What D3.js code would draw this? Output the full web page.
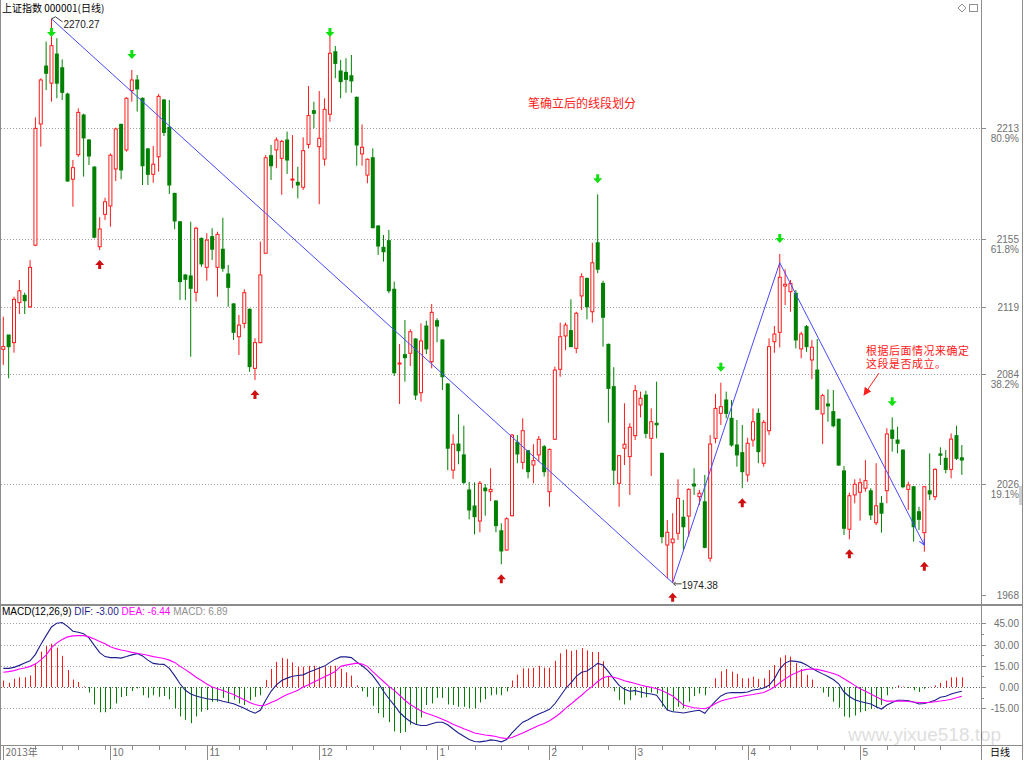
<!DOCTYPE html>
<html>
<head>
<meta charset="utf-8">
<script src="https://cdn.jsdelivr.net/npm/d3@7"></script>
<style>
body { margin: 0; background: #fff; }
svg { display: block; }
text { font-family: "Liberation Sans", Arial, sans-serif; }
.cjk { font-family: "Noto Sans CJK SC", sans-serif; }
.note { font-family: "Liberation Sans", "Noto Sans CJK SC", sans-serif; }
</style>
</head>
<body>
<svg id="chart" width="1024" height="760"></svg>
<script>
// trading days shown (Aug 30 2013 .. May 30 2014)
var months = ["2013-08","2013-09","2013-10","2013-11","2013-12","2014-01","2014-02","2014-03","2014-04","2014-05"];
var monthDays = [
  [30],
  [2,3,4,5,6,9,10,11,12,13,16,17,18,23,24,25,26,27,30],
  [8,9,10,11,14,15,16,17,18,21,22,23,24,25,28,29,30,31],
  [1,4,5,6,7,8,11,12,13,14,15,18,19,20,21,22,25,26,27,28,29],
  [2,3,4,5,6,9,10,11,12,13,16,17,18,19,20,23,24,25,26,27,30,31],
  [2,3,6,7,8,9,10,13,14,15,16,17,20,21,22,23,24,27,28,29,30],
  [7,10,11,12,13,14,17,18,19,20,21,24,25,26,27,28],
  [3,4,5,6,7,10,11,12,13,14,17,18,19,20,21,24,25,26,27,28,31],
  [1,2,3,4,8,9,10,11,14,15,16,17,18,21,22,23,24,25,28,29,30],
  [5,6,7,8,9,12,13,14,15,16,19,20,21,22,23,26,27,28,29,30]
];

var open = [2096.9,2104.4,2100.4,2121.4,2125.2,2119.2,2151.5,2215.1,2245.5,2236.5,
2251.8,2244.6,2230.8,2186.1,2199.0,2219.8,2206.7,2192.5,2150.7,2167.7,
2172.1,2191.5,2214.9,2201.5,2232.6,2238.2,2228.6,2202.0,2188.7,2197.9,
2227.7,2213.4,2178.7,2163.8,2135.9,2135.4,2126.8,2155.1,2139.9,2156.0,
2139.9,2149.4,2136.4,2120.7,2103.5,2110.5,2117.9,2086.9,2100.4,2147.3,
2198.5,2201.5,2197.1,2206.7,2185.7,2184.5,2181.9,2204.4,2222.1,2203.2,
2196.7,2220.2,2253.0,2242.9,2242.2,2240.4,2229.1,2199.4,2188.3,2197.4,
2161.6,2150.4,2153.9,2128.4,2089.2,2094.1,2094.8,2102.3,2074.1,2109.1,
2090.4,2111.9,2101.8,2078.7,2033.5,2047.2,2041.5,2023.1,2014.7,2006.8,
2024.1,2022.2,2017.3,2001.7,1991.6,2009.6,2048.1,2037.6,2043.7,2036.2,
2041.5,2045.8,2022.2,2049.7,2086.4,2103.9,2106.7,2097.4,2124.9,2134.1,
2116.6,2152.8,2131.5,2099.5,2077.3,2026.6,2045.0,2040.6,2051.6,2067.7,
2072.9,2050.2,2058.1,2042.3,1994.2,1995.4,2000.4,2008.8,2009.4,2026.2,
2019.6,2016.9,1987.3,2050.2,2063.3,2070.3,2060.7,2046.7,2042.7,2031.0,
2049.3,2063.3,2037.1,2054.2,2100.9,2105.8,2130.1,2127.1,2126.3,2097.1,
2108.8,2091.3,2086.0,2063.0,2068.2,2064.2,2060.2,2033.1,2002.5,2020.5,
2021.9,2024.0,2022.7,2005.9,2016.1,2022.7,2054.5,2049.3,2044.0,2023.4,
2024.8,2011.7,2000.7,2022.7,2019.6,2042.0,2039.7,2033.9,2051.6,2040.0];
var high = [2114.0,2104.4,2124.5,2133.3,2126.6,2143.7,2218.6,2239.1,2258.3,2270.27,
2260.1,2249.0,2231.5,2196.2,2223.3,2220.5,2207.2,2193.0,2166.2,2176.4,
2199.7,2213.2,2215.3,2229.1,2243.4,2240.8,2229.0,2202.5,2203.6,2230.8,
2228.2,2227.7,2179.0,2164.2,2136.3,2163.8,2161.2,2155.5,2157.8,2160.4,
2158.6,2165.9,2141.1,2121.2,2114.9,2128.4,2118.3,2102.7,2153.4,2198.8,
2204.1,2208.1,2206.7,2211.1,2209.3,2192.7,2208.1,2235.0,2226.8,2232.4,
2228.6,2261.4,2256.0,2248.7,2249.6,2251.3,2229.5,2214.9,2197.0,2202.3,
2162.0,2156.9,2159.5,2132.4,2099.7,2112.3,2107.4,2102.7,2110.5,2111.9,
2120.7,2113.2,2102.2,2079.1,2052.3,2062.8,2056.8,2027.4,2027.1,2027.8,
2026.2,2034.5,2017.7,2005.6,2008.8,2052.5,2051.9,2060.7,2044.0,2047.1,
2051.4,2046.7,2044.8,2087.8,2110.9,2110.9,2123.1,2116.6,2136.8,2134.5,
2152.8,2178.2,2132.9,2099.9,2087.5,2041.5,2068.6,2058.1,2078.2,2074.7,
2075.2,2065.9,2079.9,2042.7,2007.3,2010.9,2028.7,2017.8,2024.0,2034.5,
2023.1,2031.0,2051.9,2073.5,2079.4,2074.7,2070.3,2059.8,2057.2,2050.5,
2065.9,2065.9,2059.8,2102.7,2109.1,2146.9,2138.9,2133.3,2128.0,2106.1,
2109.6,2101.8,2102.3,2073.5,2075.9,2075.5,2060.6,2035.7,2021.7,2028.7,
2029.2,2038.8,2024.0,2037.1,2019.9,2055.5,2061.2,2056.3,2044.4,2027.4,
2025.2,2014.3,2025.2,2042.3,2034.5,2045.5,2044.0,2052.8,2056.8,2046.7];
var low = [2088.7,2081.7,2095.1,2115.4,2115.4,2118.6,2151.0,2203.2,2232.9,2226.8,
2228.6,2227.7,2184.8,2171.7,2197.9,2187.5,2193.6,2155.2,2149.0,2164.7,
2161.2,2185.2,2186.1,2200.6,2226.8,2221.6,2183.1,2183.1,2184.3,2190.1,
2208.8,2178.4,2159.9,2122.8,2122.8,2093.0,2121.9,2140.2,2132.9,2143.7,
2124.5,2137.6,2119.2,2101.8,2093.9,2107.9,2085.1,2080.8,2100.0,2147.0,
2185.7,2191.9,2177.9,2188.9,2181.4,2176.1,2180.5,2202.3,2212.8,2173.0,
2193.2,2216.3,2239.1,2228.6,2231.5,2231.5,2193.2,2193.2,2184.0,2160.4,
2146.4,2142.9,2126.3,2082.9,2068.2,2079.9,2088.1,2070.3,2069.4,2094.4,
2086.9,2100.6,2075.5,2033.5,2028.9,2036.6,2026.2,2007.7,1999.8,2000.9,
2009.6,2017.3,2000.9,1984.1,1991.2,2009.2,2037.1,2033.9,2029.2,2026.6,
2038.0,2030.1,2014.3,2049.3,2082.5,2096.5,2098.0,2094.8,2117.5,2112.6,
2110.9,2136.8,2098.3,2058.4,2025.7,2014.3,2036.2,2020.5,2049.3,2061.2,
2050.2,2030.4,2050.2,1995.1,1976.8,1974.38,1996.8,1991.6,1998.6,2020.5,
2015.2,1992.5,1985.5,2047.6,2057.2,2060.7,2045.8,2035.3,2024.0,2027.4,
2045.8,2037.1,2035.3,2051.9,2095.1,2097.9,2120.1,2116.6,2097.4,2092.2,
2095.6,2081.2,2065.0,2047.2,2058.9,2055.9,2035.7,1999.5,1997.2,2016.1,
2007.0,2022.2,2007.3,2004.7,2000.7,2016.1,2043.2,2042.3,2024.0,2012.6,
1996.0,2002.1,1990.7,2017.8,2017.8,2036.2,2031.8,2029.2,2038.8,2031.0];
var close = [2098.3,2098.3,2123.1,2127.6,2122.4,2139.9,2212.8,2238.2,2241.7,2256.2,
2236.5,2231.7,2185.2,2192.2,2221.2,2207.8,2198.3,2155.7,2160.0,2174.3,
2198.7,2212.5,2191.0,2228.6,2238.2,2233.5,2193.2,2188.7,2194.0,2229.6,
2210.7,2183.1,2164.2,2132.4,2133.6,2128.9,2160.4,2141.7,2154.2,2149.4,
2157.2,2139.4,2129.4,2105.8,2109.6,2126.6,2087.8,2100.4,2135.9,2197.4,
2193.2,2206.7,2206.0,2196.2,2186.2,2183.1,2201.1,2219.5,2220.7,2207.6,
2222.8,2252.2,2246.9,2237.3,2238.5,2237.7,2204.1,2202.9,2196.6,2160.7,
2151.1,2148.1,2127.6,2084.6,2089.7,2092.5,2106.1,2072.9,2101.3,2097.1,
2116.3,2109.1,2082.5,2045.0,2047.1,2043.7,2027.1,2012.6,2009.1,2026.6,
2022.7,2023.4,2004.4,1991.1,2008.0,2051.9,2042.0,2054.2,2032.7,2038.5,
2049.7,2032.7,2044.4,2086.0,2103.5,2109.6,2098.3,2115.8,2135.0,2119.2,
2142.3,2138.9,2113.7,2076.4,2033.5,2041.1,2047.1,2056.0,2075.2,2071.2,
2052.8,2058.9,2057.3,1998.6,2000.9,1997.4,2018.7,2003.8,2023.4,2025.2,
2021.4,1993.0,2047.2,2065.9,2066.8,2063.3,2046.7,2041.5,2032.7,2047.6,
2058.9,2043.2,2058.6,2098.3,2104.9,2134.7,2131.0,2131.5,2101.8,2104.9,
2098.3,2098.0,2065.4,2072.6,2067.2,2056.8,2036.2,2003.0,2020.1,2026.1,
2026.9,2028.0,2010.0,2014.8,2010.9,2052.5,2050.2,2047.6,2024.8,2025.7,
2003.8,2007.7,2024.8,2021.0,2033.9,2041.3,2033.9,2049.8,2039.7,2038.8];

// MACD(12,26,9)
var dif = [13.2,13.2,13.9,15.3,16.9,18.5,23.1,30.1,36.3,42.4,
45.1,45.6,42.8,39.4,38.7,37.7,34.7,29.4,24.3,21.5,
20.8,20.8,20.4,21.5,22.7,23.6,22.0,19.0,16.7,16.2,
16.0,13.2,8.1,2.3,-2.3,-4.9,-6.3,-7.4,-8.3,-8.8,
-9.0,-10.0,-10.9,-11.8,-13.4,-15.0,-16.9,-18.5,-16.4,-9.3,
-3.0,1.6,4.6,6.3,7.6,8.1,8.6,10.4,11.8,13.4,
14.8,17.4,19.7,21.3,21.3,20.8,17.8,15.0,12.0,8.1,
3.0,-3.0,-8.1,-12.7,-17.8,-21.5,-24.3,-26.2,-27.1,-27.1,
-25.9,-24.8,-24.8,-26.6,-29.6,-32.4,-34.7,-37.0,-38.4,-38.7,
-38.2,-37.3,-37.7,-38.7,-37.0,-32.4,-28.5,-24.8,-23.1,-20.8,
-19.0,-17.4,-15.7,-11.8,-6.5,-1.2,3.0,7.6,10.4,11.3,
13.9,16.7,15.5,10.9,5.8,1.2,-1.6,-3.0,-2.5,-3.5,
-4.4,-4.9,-5.8,-10.9,-16.2,-17.4,-17.8,-18.3,-17.6,-16.9,
-16.4,-18.5,-13.9,-10.0,-6.3,-4.4,-3.9,-3.9,-3.9,-3.5,
-2.1,-1.6,-0.7,1.2,5.8,12.7,16.9,18.5,18.1,17.4,
15.5,13.2,11.1,9.3,7.4,5.3,2.3,-3.5,-6.7,-9.0,
-10.2,-11.1,-12.0,-13.9,-15.5,-12.7,-10.9,-9.3,-9.3,-9.7,
-10.6,-12.0,-11.6,-10.6,-9.3,-7.2,-6.5,-4.9,-3.9,-3.0];
var dea = [10.4,10.9,11.6,12.7,13.4,14.6,16.2,19.2,22.5,27.8,
31.2,33.6,35.4,36.1,36.3,36.3,35.4,34.0,32.2,30.6,
28.5,27.1,26.2,25.5,24.5,23.8,23.1,22.5,21.5,20.8,
20.1,19.0,17.4,14.6,12.3,9.7,6.9,4.6,2.1,0,
-1.2,-2.5,-3.9,-5.3,-7.2,-9.0,-10.9,-12.3,-13.2,-12.7,
-10.9,-9.3,-7.2,-5.3,-3.9,-2.3,0,1.6,3.5,5.3,
7.2,9.0,10.9,14.6,15.5,16.2,16.9,16.2,14.6,10.9,
7.4,3.9,0.5,-2.3,-5.8,-9.3,-12.3,-14.6,-16.9,-18.5,
-19.7,-21.1,-22.7,-24.3,-26.2,-27.8,-29.4,-30.8,-32.4,-33.1,
-33.8,-34.3,-34.9,-35.9,-36.3,-35.6,-34.0,-32.4,-30.6,-28.9,
-27.1,-25.7,-23.8,-21.3,-18.5,-15.0,-12.0,-8.8,-5.8,-2.3,
0.5,3.9,6.5,7.6,6.9,5.8,4.4,3.5,2.5,1.4,
0.5,-0.2,-1.2,-2.5,-4.4,-6.3,-9.3,-12.7,-13.7,-14.6,
-15.0,-15.3,-13.9,-11.6,-9.9,-8.8,-7.9,-7.2,-6.5,-5.8,
-5.3,-4.6,-3.9,-2.1,0,3.0,5.8,8.1,10.0,11.6,
12.5,12.7,12.5,11.6,10.6,9.5,8.1,5.8,3.5,1.2,
-1.2,-3.0,-4.9,-6.9,-8.8,-9.9,-9.9,-9.9,-9.9,-10.2,
-10.6,-10.9,-10.9,-10.9,-10.4,-9.9,-9.3,-8.6,-7.6,-6.44];
var macd = [4.6,3.0,5.8,6.9,6.9,8.1,16.9,25.0,28.9,30.6,
27.8,22.0,12.0,5.3,3.5,0.5,-3.9,-12.3,-17.8,-17.8,
-15.5,-11.6,-7.0,-6.3,-2.8,-1.0,-5.8,-7.6,-5.8,-6.9,
-6.3,-8.6,-15.0,-20.8,-23.1,-25.5,-20.8,-17.4,-16.2,-10.4,
-10.4,-7.6,-10.9,-8.8,-11.6,-12.7,-9.3,-6.9,-5.8,5.1,
12.7,17.8,20.6,19.9,17.4,14.4,14.4,15.0,15.0,13.9,
14.4,15.0,15.0,13.0,10.4,8.1,1.2,-3.0,-6.9,-13.2,
-18.5,-21.5,-24.8,-31.3,-32.4,-31.7,-26.6,-26.2,-21.5,-12.7,
-11.6,-7.6,-7.6,-12.3,-12.7,-13.9,-13.9,-15.0,-15.0,-10.9,
-8.6,-5.8,-5.3,-5.8,-3.0,4.6,8.8,13.2,13.2,13.7,
15.0,13.7,13.7,18.5,23.8,26.6,25.5,26.2,27.5,25.9,
24.8,24.8,18.3,7.6,-3.0,-9.3,-12.3,-9.3,-5.8,-7.6,
-7.2,-3.9,-4.6,-13.9,-16.2,-17.4,-13.9,-15.0,-10.4,-6.3,
-4.6,-5.8,0,6.2,11.1,12.7,10.9,9.3,6.2,6.2,
7.4,5.8,6.2,12.0,15.5,20.8,22.5,21.5,16.9,12.7,
8.6,5.3,0.2,-3.9,-6.9,-10.4,-14.6,-20.8,-21.5,-20.1,
-17.8,-16.9,-15.5,-14.6,-12.7,-5.8,-1.2,1.2,0.3,-0.7,
-2.3,-3.5,-1.2,0.2,1.2,3.0,4.6,6.9,6.9,6.89];

// fractal marks (candle index) and the drawn segment (index, price)
var topMarks = [9, 24, 61, 111, 134, 145, 166];
var bottomMarks = [18, 47, 93, 125, 138, 158, 172];
var segIdx = [9, 125, 145, 172];
var segPrice = [2270.27, 1974.38, 2142.3, 1994.2];

var priceTicks = [2213, 2155, 2119, 2084, 2026, 1968];
var fibTicks = ["80.9%", "61.8%", "", "38.2%", "19.1%", ""];
var macdTicks = [45, 30, 15, 0, -15];
var monthTickDates = ["2013-08-30","2013-10-08","2013-11-01","2013-12-02","2014-01-02","2014-02-07","2014-03-03","2014-04-01","2014-05-05"];
var monthTickLabels = ["2013年","10","11","12","1","2","3","4","5"];

var dates = [];
months.forEach(function(m, k) {
  monthDays[k].forEach(function(d) { dates.push(m + "-" + (d < 10 ? "0" : "") + d); });
});

var RED = "#ff1a1a", GREEN = "#008000";
var axisX = 981;

var svg = d3.select("#chart");

var x = d3.scaleBand().domain(dates).range([0.62, 964.5]).paddingInner(0.25).paddingOuter(0.125);
function cx(i) { return x(dates[i]) + x.bandwidth() / 2; }
var y = d3.scaleLinear().domain([1968, 2213]).range([595, 128]);
var ym = d3.scaleLinear().domain([-15, 45]).range([708.3, 623.3]);

// frame
var frame = svg.append("g").attr("stroke", "#8c8c8c").attr("fill", "none");
frame.append("line").attr("x1", 0.5).attr("x2", 0.5).attr("y1", 0).attr("y2", 760);
frame.append("line").attr("x1", axisX + 0.5).attr("x2", axisX + 0.5).attr("y1", 0).attr("y2", 760);
frame.append("line").attr("x1", 1022.5).attr("x2", 1022.5).attr("y1", 0).attr("y2", 760);
frame.append("line").attr("x1", 0).attr("x2", 1023).attr("y1", 605).attr("y2", 605).attr("stroke-width", 2);
frame.append("line").attr("x1", 0).attr("x2", 1023).attr("y1", 745.5).attr("y2", 745.5);
svg.append("rect").attr("x", 1019).attr("y", 486).attr("width", 3).attr("height", 19).attr("fill", "#d0d0d0");

// price grid + right axis
priceTicks.forEach(function(p, k) {
  var yy = Math.round(y(p)) + 0.5;
  if (k < priceTicks.length - 1) {
    svg.append("line").attr("x1", 1).attr("x2", axisX).attr("y1", yy).attr("y2", yy)
      .attr("stroke", "#a0a0a0").attr("stroke-dasharray", "1,2");
  }
  svg.append("line").attr("x1", axisX).attr("x2", axisX + 5).attr("y1", yy).attr("y2", yy).attr("stroke", "#8c8c8c");
  var t = svg.append("text").attr("text-anchor", "end").attr("font-size", 10).attr("fill", "#707070");
  t.append("tspan").attr("x", 1019).attr("y", yy + 3.5).text(p);
  if (fibTicks[k]) t.append("tspan").attr("x", 1019).attr("y", yy + 13).text(fibTicks[k]);
});

// macd grid + axis
macdTicks.forEach(function(v) {
  var yy = Math.round(ym(v)) + 0.5;
  svg.append("line").attr("x1", 1).attr("x2", axisX).attr("y1", yy).attr("y2", yy)
    .attr("stroke", v === 0 ? "#606060" : "#a0a0a0").attr("stroke-dasharray", "1,2");
  svg.append("line").attr("x1", axisX).attr("x2", axisX + 5).attr("y1", yy).attr("y2", yy).attr("stroke", "#8c8c8c");
  svg.append("text").attr("x", 1019).attr("y", yy + 3.5).attr("text-anchor", "end")
    .attr("font-size", 10).attr("fill", "#707070").text(v.toFixed(2));
});
d3.range(-15, 46, 7.5).forEach(function(v) {
  if (v % 15 === 0) return;
  var yy = Math.round(ym(v)) + 0.5;
  svg.append("line").attr("x1", axisX).attr("x2", axisX + 3).attr("y1", yy).attr("y2", yy).attr("stroke", "#8c8c8c");
});

// candles
var cg = svg.append("g");
d3.range(dates.length).forEach(function(i) {
  var up = close[i] >= open[i];
  var col = up ? RED : GREEN;
  var c = cx(i);
  var yt = y(Math.max(open[i], close[i])), yb = y(Math.min(open[i], close[i]));
  cg.append("line").attr("x1", c).attr("x2", c).attr("y1", y(high[i])).attr("y2", y(low[i]))
    .attr("stroke", col).attr("stroke-width", 1);
  if (up) {
    cg.append("rect").attr("x", c - 1.5).attr("y", yt).attr("width", 3).attr("height", Math.max(1, yb - yt))
      .attr("fill", "#fff").attr("stroke", col).attr("stroke-width", 1);
  } else {
    cg.append("rect").attr("x", c - 2).attr("y", yt - 0.5).attr("width", 4).attr("height", Math.max(1, yb - yt + 1))
      .attr("fill", col);
  }
});

// segment line
var defs = svg.append("defs");
defs.append("marker").attr("id", "segArrow").attr("viewBox", "0 0 10 10").attr("refX", 9).attr("refY", 5)
  .attr("markerWidth", 7).attr("markerHeight", 7).attr("orient", "auto")
  .append("path").attr("d", "M1,1 L9,5 L1,9").attr("fill", "none").attr("stroke", "#4040ff").attr("stroke-width", 1.5);
defs.append("marker").attr("id", "redArrow").attr("viewBox", "0 0 10 10").attr("refX", 9).attr("refY", 5)
  .attr("markerWidth", 8).attr("markerHeight", 8).attr("orient", "auto")
  .append("path").attr("d", "M0,0 L10,5 L0,10 Z").attr("fill", "#ff2020");

var segLine = d3.line().x(function(d) { return cx(d); }).y(function(d, k) { return y(segPrice[k]); });
svg.append("path").attr("d", segLine(segIdx)).attr("fill", "none")
  .attr("stroke", "#4848ff").attr("stroke-width", 1).attr("marker-end", "url(#segArrow)");

// fractal arrows
function downArrow(px, py, col) {
  svg.append("path").attr("d", "M" + (px - 1.5) + "," + (py - 5) + "h3v4h3l-4.5,5l-4.5,-5h3z").attr("fill", col);
}
function upArrow(px, py, col) {
  svg.append("path").attr("d", "M" + (px - 1.5) + "," + (py + 5) + "h3v-4h3l-4.5,-5l-4.5,5h3z").attr("fill", col);
}
topMarks.forEach(function(i) { downArrow(cx(i), Math.max(33, y(high[i]) - 15), "#10e010"); });
bottomMarks.forEach(function(i) { upArrow(cx(i), y(low[i]) + 14, "#d01010"); });

// extreme labels
var hx = cx(segIdx[0]), hy = y(segPrice[0]);
svg.append("path").attr("d", "M" + hx + "," + hy + " l4,-2 l7,5").attr("fill", "none").attr("stroke", "#404040");
svg.append("text").attr("x", hx + 12).attr("y", hy + 9).attr("font-size", 10).attr("fill", "#222").text(segPrice[0].toFixed(2));
var lx = cx(segIdx[1]), ly = y(segPrice[1]);
svg.append("path").attr("d", "M" + (lx + 9) + "," + (ly + 1) + " L" + (lx + 1) + "," + (ly + 1) + " M" + (lx + 3) + "," + (ly - 1) + " L" + (lx + 1) + "," + (ly + 1) + " L" + (lx + 3) + "," + (ly + 3))
  .attr("fill", "none").attr("stroke", "#404040");
svg.append("text").attr("x", lx + 9).attr("y", ly + 6).attr("font-size", 10).attr("fill", "#222").text(segPrice[1].toFixed(2));

// annotations
svg.append("text").attr("class", "cjk").attr("x", 528).attr("y", 108).attr("font-size", 12).attr("fill", "#ff2020").text("笔确立后的线段划分");
svg.append("text").attr("class", "note").attr("x", 866).attr("y", 354.5).attr("font-size", 11)
  .attr("fill", "#ff2020").attr("textLength", 103).text("根据后面情况来确定");
svg.append("text").attr("class", "note").attr("x", 866).attr("y", 367.5).attr("font-size", 11)
  .attr("fill", "#ff2020").attr("textLength", 80).text("这段是否成立。");
svg.append("line").attr("x1", 879).attr("y1", 373).attr("x2", 864).attr("y2", 395)
  .attr("stroke", "#ff2020").attr("stroke-width", 1).attr("marker-end", "url(#redArrow)");

// MACD histogram + lines
var mg = svg.append("g");
d3.range(dates.length).forEach(function(i) {
  var c = Math.round(cx(i)) + 0.5;
  mg.append("line").attr("x1", c).attr("x2", c).attr("y1", ym(0)).attr("y2", ym(macd[i]))
    .attr("stroke", macd[i] >= 0 ? RED : GREEN).attr("stroke-width", 1);
});
var difLine = d3.line().x(function(d, i) { return cx(i); }).y(function(d) { return ym(d); });
svg.append("path").attr("d", difLine(dif)).attr("fill", "none").attr("stroke", "#1e1e8c").attr("stroke-width", 1.1);
svg.append("path").attr("d", difLine(dea)).attr("fill", "none").attr("stroke", "#ff00ff").attr("stroke-width", 1.1);

// headers
svg.append("text").attr("class", "cjk").attr("x", 2).attr("y", 12).attr("font-size", 10).attr("fill", "#000").text("上证指数 000001(日线)");
var hdr = svg.append("text").attr("x", 2).attr("y", 615).attr("font-size", 10);
hdr.append("tspan").attr("fill", "#000").text("MACD(12,26,9) ");
hdr.append("tspan").attr("fill", "#1e1e8c").text(" DIF: " + dif[dif.length - 1].toFixed(2) + " ");
hdr.append("tspan").attr("fill", "#ff00ff").text(" DEA: " + dea[dea.length - 1].toFixed(2) + " ");
hdr.append("tspan").attr("fill", "#909090").text(" MACD: " + macd[macd.length - 1].toFixed(2));

// top-right icons
svg.append("path").attr("d", "M962,4 l4,4 l-4,4 l-4,-4 z").attr("fill", "none").attr("stroke", "#909090");
svg.append("rect").attr("x", 969.5).attr("y", 4.5).attr("width", 8).attr("height", 7).attr("fill", "none").attr("stroke", "#909090");

// x axis: weekly minor ticks, month ticks with labels
dates.forEach(function(d, i) {
  if (i === 0) return;
  var gap = (new Date(d) - new Date(dates[i - 1])) / 864e5;
  var newMonth = d.slice(0, 7) !== dates[i - 1].slice(0, 7);
  if (gap > 2 && !newMonth) {
    var px = Math.round(cx(i)) + 0.5;
    svg.append("line").attr("x1", px).attr("x2", px).attr("y1", 746).attr("y2", 750).attr("stroke", "#8c8c8c");
  }
});
monthTickDates.forEach(function(d, k) {
  var i = dates.indexOf(d);
  var px = Math.round(cx(i)) + 0.5;
  svg.append("line").attr("x1", px).attr("x2", px).attr("y1", 746).attr("y2", 760).attr("stroke", "#8c8c8c");
  svg.append("text").attr("class", k === 0 ? "cjk" : null).attr("x", px + 2).attr("y", 756)
    .attr("font-size", 10).attr("fill", "#707070").text(monthTickLabels[k]);
});
svg.append("text").attr("class", "cjk").attr("x", 990).attr("y", 756).attr("font-size", 10).attr("fill", "#000").text("日线");

// watermark
svg.append("text").attr("x", 848).attr("y", 741).attr("font-size", 19).attr("fill", "#000").attr("opacity", 0.13).text("www.yixue518.top");
</script>
</body>
</html>
